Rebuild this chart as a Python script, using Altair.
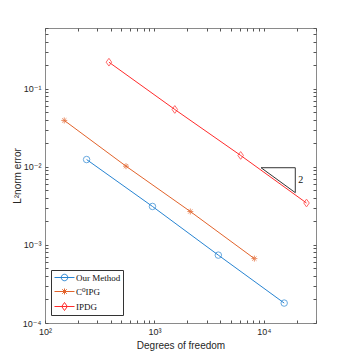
import altair as alt
import pandas as pd

series_names = ["Our Method", "C⁰IPG", "IPDG"]
dof_ours = [240, 960, 3840, 15360]
err_ours = [0.0124, 0.00311, 0.00074, 0.000180]
dof_c0 = [150, 550, 2130, 8200]
err_c0 = [0.0393, 0.0102, 0.00268, 0.000668]
dof_ipdg = [384, 1536, 6144, 24576]
err_ipdg = [0.219, 0.0543, 0.0140, 0.00344]
colors = ["#2784d2", "#e2632b", "#ff2b2b"]

tri_x = [9440, 19400, 19400, 9440]
tri_y = [0.00974, 0.00974, 0.00467, 0.00974]
slope_x = [19400]
slope_y = [0.00674]
slope_text = ["2"]

x_major = [100, 1000, 10000]
x_major_labels = ["10²", "10³", "10⁴"]
x_minor = [200, 300, 400, 500, 600, 700, 800, 900,
           2000, 3000, 4000, 5000, 6000, 7000, 8000, 9000, 20000, 30000]
y_major = [0.0001, 0.001, 0.01, 0.1]
y_major_labels = ["10⁻⁴", "10⁻³", "10⁻²", "10⁻¹"]
y_minor = [0.0002, 0.0003, 0.0004, 0.0005, 0.0006, 0.0007, 0.0008, 0.0009,
           0.002, 0.003, 0.004, 0.005, 0.006, 0.007, 0.008, 0.009,
           0.02, 0.03, 0.04, 0.05, 0.06, 0.07, 0.08, 0.09,
           0.2, 0.3, 0.4, 0.5, 0.6]

rows = []
for name, xs, ys in zip(series_names, [dof_ours, dof_c0, dof_ipdg], [err_ours, err_c0, err_ipdg]):
    for i, (a, b) in enumerate(zip(xs, ys)):
        rows.append({"series": name, "dof": a, "err": b, "idx": i})
df = pd.DataFrame(rows)
tri = pd.DataFrame({"x": tri_x, "y": tri_y, "idx": list(range(len(tri_x)))})
lab = pd.DataFrame({"x": slope_x, "y": slope_y, "t": slope_text})

def lab_expr(vals, labels):
    parts = ""
    for v, l in zip(vals, labels):
        parts += f"datum.value == {v} ? '{l}' : "
    return parts + "''"

FONT = "Liberation Sans, Arial, DejaVu Sans"
SERIF = "Liberation Serif, Times New Roman, DejaVu Serif"

xscale = alt.Scale(type="log", domain=[100, 30000], nice=False)
yscale = alt.Scale(type="log", domain=[0.0001, 0.6], nice=False)
cscale = alt.Scale(domain=series_names, range=colors)

xaxis = alt.Axis(orient="bottom", values=x_major + x_minor, labelExpr=lab_expr(x_major, x_major_labels),
                 offset=-3, tickSize=3, domain=False, grid=False, labelPadding=4,
                 labelOverlap=False, labelFlush=False, labelBound=False,
                 title="Degrees of freedom", titlePadding=4)
yaxis = alt.Axis(orient="left", values=y_major + y_minor, labelExpr=lab_expr(y_major, y_major_labels),
                 offset=-3, tickSize=3, domain=False, grid=False, labelPadding=4,
                 labelOverlap=False, labelFlush=False, labelBound=False,
                 title="L²norm error", titlePadding=0)

X = alt.X("dof:Q", scale=xscale, axis=xaxis)
Y = alt.Y("err:Q", scale=yscale, axis=yaxis)

marker_shapes = [
    "circle",
    "M-1,0L1,0M0,-1L0,1M-0.7,-0.7L0.7,0.7M-0.7,0.7L0.7,-0.7",
    "M0,-1L0.72,0L0,1L-0.72,0Z",
]
marker_sizes = [42, 36, 60]
layers = []
for name, col in zip(series_names, colors):
    layers.append(
        alt.Chart(df).transform_filter(alt.datum.series == name)
        .mark_line(strokeWidth=1, color=col).encode(x=X, y=Y, order="idx:Q")
    )
for name, col, shp, sz in zip(series_names, colors, marker_shapes, marker_sizes):
    layers.append(
        alt.Chart(df).transform_filter(alt.datum.series == name)
        .mark_point(shape=shp, size=sz, filled=False, strokeWidth=1, color=col)
        .encode(x=X, y=Y)
    )

legend_paths = [
    "M-2,0L2,0M0.65,0A0.65,0.65,0,1,1,-0.65,0A0.65,0.65,0,1,1,0.65,0",
    "M-2,0L2,0M0,-0.6L0,0.6M-0.45,-0.45L0.45,0.45M-0.45,0.45L0.45,-0.45",
    "M-2,0L2,0M0,-0.8L0.56,0L0,0.8L-0.56,0Z",
]
leg = alt.Legend(orient="none", legendX=6, legendY=242, padding=2, rowPadding=3,
                 symbolSize=100, symbolOffset=6, labelOffset=6, labelFont=SERIF,
                 labelFontSize=9, labelColor="#111", strokeColor="#333", fillColor="white",
                 symbolStrokeWidth=1, title=None)
legend_layer = alt.Chart(df).mark_point(opacity=0, filled=False).encode(
    x=X, y=Y,
    color=alt.Color("series:N", scale=cscale, legend=leg, title=None),
    shape=alt.Shape("series:N", scale=alt.Scale(domain=series_names, range=legend_paths), legend=leg, title=None),
)

triangle = alt.Chart(tri).mark_line(color="#333333", strokeWidth=1).encode(
    x=alt.X("x:Q", scale=xscale, axis=xaxis), y=alt.Y("y:Q", scale=yscale, axis=yaxis), order="idx:Q")
slope = alt.Chart(lab).mark_text(align="left", baseline="middle", dx=3, font=SERIF, fontSize=10, color="#111").encode(
    x=alt.X("x:Q", scale=xscale, axis=xaxis), y=alt.Y("y:Q", scale=yscale, axis=yaxis), text="t:N")

inner = alt.layer(*layers, triangle, slope, legend_layer)

ticks = alt.Chart(df).mark_point(opacity=0).encode(
    x=alt.X("dof:Q", scale=xscale, axis=alt.Axis(orient="top", values=x_major + x_minor, labels=False,
                                                 domain=False, grid=False, offset=-3, tickSize=3, title=None)),
    y=alt.Y("err:Q", scale=yscale, axis=alt.Axis(orient="right", values=y_major + y_minor, labels=False,
                                                 domain=False, grid=False, offset=-3, tickSize=3, title=None)),
)

chart = alt.layer(inner, ticks).resolve_scale(x="independent", y="independent").properties(
    width=271, height=295, autosize="none",
    padding={"left": 37, "top": 20, "right": 25, "bottom": 30},
).configure_view(stroke="#8a8a8a", strokeWidth=1).configure_axis(
    labelFont=FONT, labelFontSize=9, labelColor="#262626", tickColor="#555555",
    titleFont=FONT, titleFontSize=10, titleFontWeight="normal", titleColor="#262626",
)

chart.save("out.html", embed_options={"renderer": "svg", "actions": False})
